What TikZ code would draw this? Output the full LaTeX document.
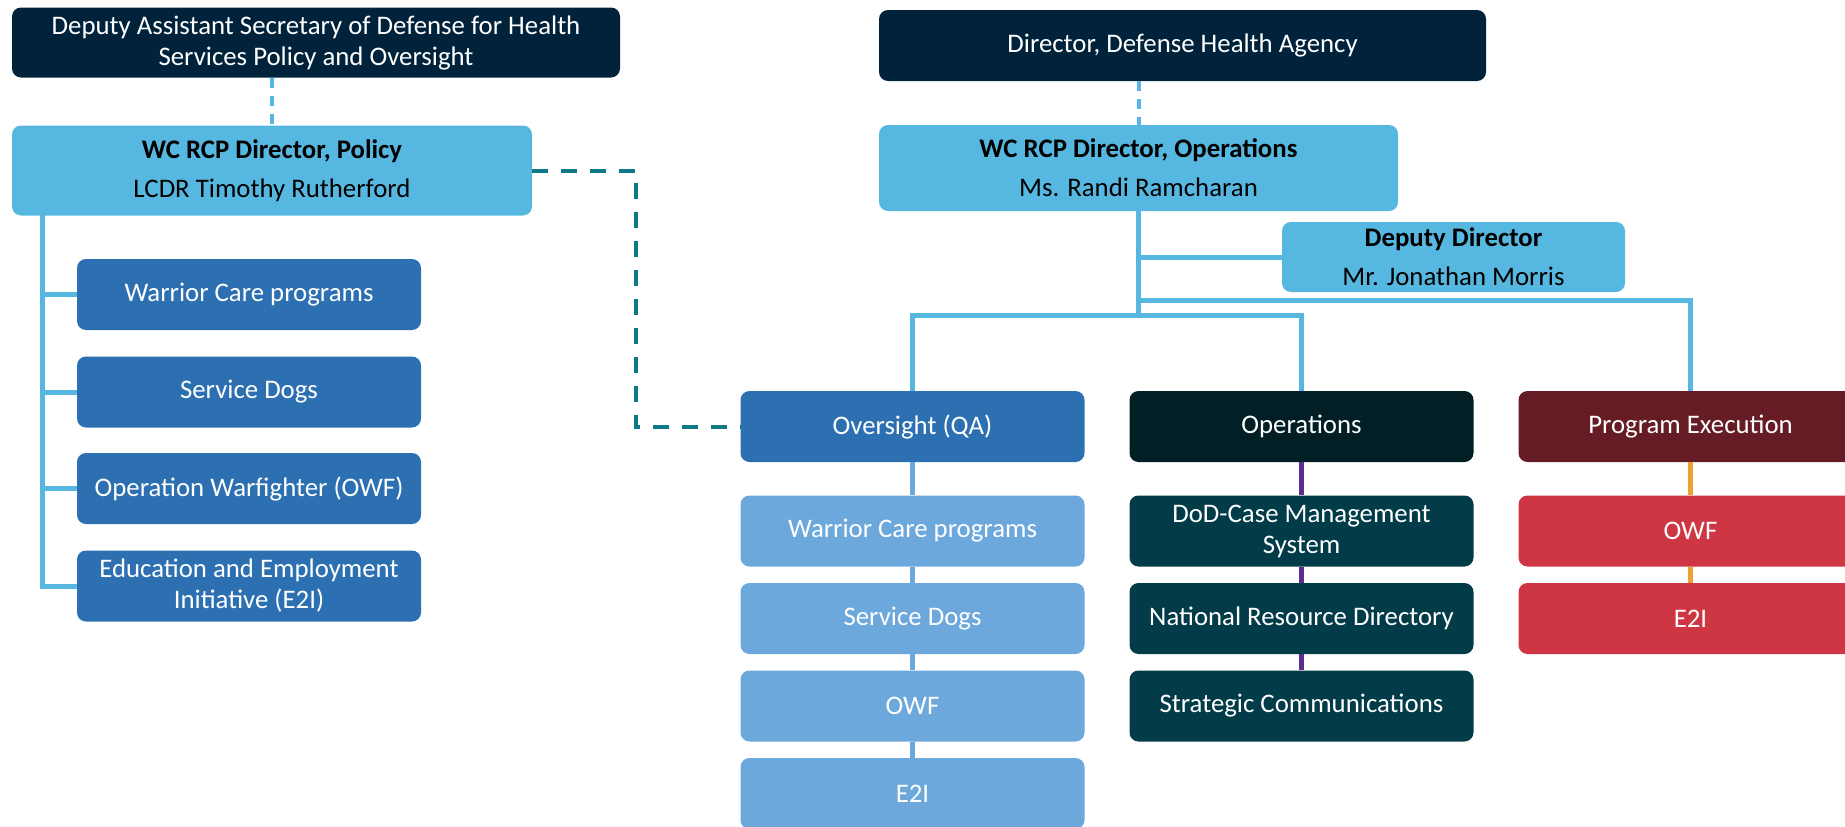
\documentclass[tikz,border=0pt]{standalone}
\usepackage{fontspec}
\setmainfont{Carlito}
\definecolor{navy}{HTML}{00233B}
\definecolor{lblue}{HTML}{56B8E0}
\definecolor{mblue}{HTML}{2C70B1}
\definecolor{pblue}{HTML}{6CA8DC}
\definecolor{opdark}{HTML}{021F26}
\definecolor{opteal}{HTML}{023C48}
\definecolor{maroon}{HTML}{651C24}
\definecolor{pered}{HTML}{CE3644}
\definecolor{tealdash}{HTML}{0E7A88}
\definecolor{purp}{HTML}{5B2D8E}
\definecolor{orng}{HTML}{F0A030}
\tikzset{
  box/.style={rectangle, rounded corners=9pt, inner sep=0pt, align=center,
    text=white, font=\fontsize{26.8}{31}\selectfont},
  wide/.style={box, minimum width=608pt, minimum height=70pt, fill=navy},
  lead/.style={box, fill=lblue, text=black},
  sub/.style={box, minimum width=344pt, minimum height=71pt},
  conn/.style={draw=lblue, line width=5pt},
  dconn/.style={draw=lblue, line width=4pt, dash pattern=on 10pt off 8pt},
  tconn/.style={draw=tealdash, line width=4pt, dash pattern=on 16pt off 13pt},
}
\begin{document}
\begin{tikzpicture}[x=1pt, y=-1pt]
\useasboundingbox (0,0) rectangle (1845,827);
\clip (0,0) rectangle (1845,827);
% left side
\node[wide] (das) at (316,42.5) {Deputy Assistant Secretary of Defense for Health\\Services Policy and Oversight};
\node[lead, minimum width=520pt, minimum height=90pt] (pol) at (272,170.5) {\textbf{WC RCP Director, Policy}\\[8pt]LCDR Timothy Rutherford};
\node[sub, fill=mblue] (l1) at (249,294.5) {Warrior Care programs};
\node[sub, fill=mblue] (l2) at (249,392) {Service Dogs};
\node[sub, fill=mblue] (l3) at (249,488.5) {Operation Warfighter (OWF)};
\node[sub, fill=mblue] (l4) at (249,586) {Education and Employment\\Initiative (E2I)};
% right side
\node[wide, minimum width=607pt, minimum height=71pt] (dha) at (1182.5,45.5) {Director, Defense Health Agency};
\node[lead, minimum width=519pt, minimum height=86pt] (ops) at (1138.5,168) {\textbf{WC RCP Director, Operations}\\[8pt]Ms. Randi Ramcharan};
\node[lead, minimum width=343pt, minimum height=70pt] (dep) at (1453.5,257) {\textbf{Deputy Director}\\[8pt]Mr. Jonathan Morris};
\node[sub, fill=mblue] (ov) at (912.5,426.5) {Oversight (QA)};
\node[sub, fill=opdark] (op) at (1301.5,426.5) {Operations};
\node[sub, fill=maroon] (pe) at (1690.5,426.5) {Program Execution};
\node[sub, fill=pblue] (ov1) at (912.5,531) {Warrior Care programs};
\node[sub, fill=pblue] (ov2) at (912.5,618.5) {Service Dogs};
\node[sub, fill=pblue] (ov3) at (912.5,706) {OWF};
\node[sub, fill=pblue] (ov4) at (912.5,793.5) {E2I};
\node[sub, fill=opteal] (op1) at (1301.5,531) {DoD-Case Management\\System};
\node[sub, fill=opteal] (op2) at (1301.5,618.5) {National Resource Directory};
\node[sub, fill=opteal] (op3) at (1301.5,706) {Strategic Communications};
\node[sub, fill=pered] (pe1) at (1690.5,531) {OWF};
\node[sub, fill=pered] (pe2) at (1690.5,618.5) {E2I};
% coordinates
\coordinate (tr) at (42,215);
\coordinate (j1) at (1138.5,315);
\coordinate (j2) at (1138.5,300);
\coordinate (dj) at (636,300);
% connectors left
\draw[dconn] (das.south -| pol.north) -- (pol.north);
\draw[conn] (tr) |- (l4.west);
\draw[conn] (tr |- l1.west) -- (l1.west);
\draw[conn] (tr |- l2.west) -- (l2.west);
\draw[conn] (tr |- l3.west) -- (l3.west);
% connectors right
\draw[dconn] (dha.south -| ops.south) -- (ops.north);
\draw[conn] (ops.south) -- (j1);
\draw[conn] (ops.south |- dep.west) -- (dep.west);
\draw[conn] (j2) -| (pe.north);
\draw[conn] (ov.north) |- (j1) -| (op.north);
\draw[tconn] (pol.east) -| (dj) |- (ov.west);
% column connectors
\draw[draw=pblue, line width=5pt] (ov.south) -- (ov1.north) (ov1.south) -- (ov2.north) (ov2.south) -- (ov3.north) (ov3.south) -- (ov4.north);
\draw[draw=purp, line width=5pt] (op.south) -- (op1.north) (op1.south) -- (op2.north) (op2.south) -- (op3.north);
\draw[draw=orng, line width=5pt] (pe.south) -- (pe1.north) (pe1.south) -- (pe2.north);
\end{tikzpicture}
\end{document}
